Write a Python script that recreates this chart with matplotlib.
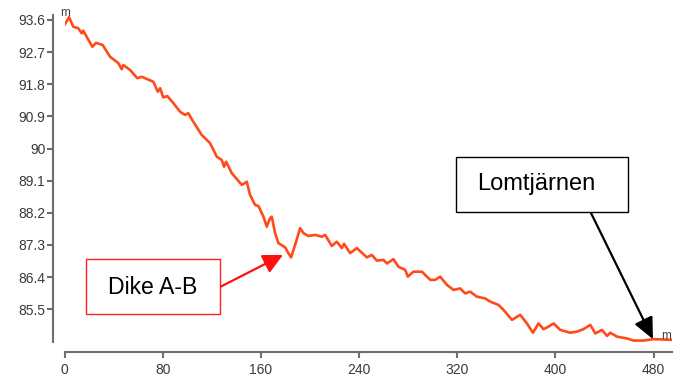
import matplotlib
matplotlib.use("Agg")
import matplotlib.pyplot as plt
from matplotlib.patches import Rectangle

# elevation profile (distance m, elevation m)
dist = [0, 3.7, 7.2, 11.2, 14.0, 15.3, 18.1, 22.7, 25.7, 31.1, 37.1, 43.9, 46.6, 47.9,
        53.4, 59.3, 62.9, 72.4, 76.0, 77.9, 80.5, 83.8, 88.7, 94.2, 98.2, 100.9, 103.7,
        111.8, 114.5, 118.6, 124.1, 128.1, 130.0, 131.7, 136.3, 144.5, 148.5, 151.2,
        155.3, 158.0, 162.1, 164.8, 167.5, 168.9, 171.6, 174.3, 179.8, 182.4, 184.6,
        187.9, 192.0, 194.7, 198.7, 204.2, 209.7, 212.4, 217.8, 221.9, 226.0, 227.8,
        232.7, 238.2, 246.4, 250.4, 254.5, 259.9, 262.7, 268.0, 272.1, 277.6, 279.8,
        284.3, 291.2, 298.0, 302.0, 306.1, 311.6, 317.0, 322.4, 326.5, 330.6, 336.0,
        342.8, 346.9, 353.6, 357.7, 364.6, 371.3, 376.8, 381.7, 386.2, 390.3, 394.4,
        398.5, 403.9, 412.1, 417.5, 422.9, 428.4, 432.5, 437.9, 442.0, 444.7, 450.2,
        458.3, 463.7, 471.8, 480.0, 495.0]
elev = [93.46, 93.68, 93.41, 93.37, 93.23, 93.30, 93.13, 92.85, 92.96, 92.90, 92.57,
        92.39, 92.22, 92.34, 92.20, 91.97, 92.01, 91.87, 91.59, 91.69, 91.43, 91.47,
        91.27, 91.03, 90.94, 90.99, 90.82, 90.38, 90.29, 90.15, 89.77, 89.68, 89.49,
        89.63, 89.31, 88.98, 89.07, 88.70, 88.42, 88.39, 88.09, 87.81, 88.05, 88.09,
        87.63, 87.35, 87.23, 87.07, 86.95, 87.30, 87.77, 87.63, 87.55, 87.58, 87.53,
        87.58, 87.27, 87.39, 87.21, 87.33, 87.07, 87.21, 86.95, 87.02, 86.86, 86.88,
        86.78, 86.90, 86.69, 86.60, 86.41, 86.55, 86.55, 86.32, 86.32, 86.41, 86.18,
        86.04, 86.08, 85.94, 85.99, 85.85, 85.80, 85.71, 85.62, 85.48, 85.20, 85.34,
        85.10, 84.84, 85.10, 84.94, 85.01, 85.10, 84.92, 84.84, 84.87, 84.94, 85.06,
        84.82, 84.92, 84.75, 84.84, 84.73, 84.68, 84.62, 84.62, 84.66, 84.64]

x_ticks = [0, 80, 160, 240, 320, 400, 480]
y_ticks = [85.5, 86.4, 87.3, 88.2, 89.1, 90, 90.9, 91.8, 92.7, 93.6]

dike_label = "Dike A-B"
dike_point = (178, 87.02)
lake_label = "Lomtjärnen"
lake_point = (479.5, 84.66)

W, H = 683, 378
plt.rcParams['font.family'] = ['Liberation Sans', 'DejaVu Sans']
fig = plt.figure(figsize=(W / 100, H / 100), dpi=100)


def fx(px):
    return px / W


def fy(py):
    return 1 - py / H


ax = fig.add_axes([fx(64.5), fy(342), fx(672) - fx(64.5), fy(15) - fy(342)])
ax.plot(dist, elev, color='#ff4a1a', lw=1.9)

ax.set_xlim(0, 495)
ax.set_ylim(84.58, 93.74)
ax.set_xticks(x_ticks)
ax.set_yticks(y_ticks)
ax.set_yticklabels([f"{v:g}" for v in y_ticks])

for s in ['top', 'right']:
    ax.spines[s].set_visible(False)
ax.spines['left'].set_position(('outward', 8.3))
ax.spines['bottom'].set_position(('outward', 7.5))
for s in ['left', 'bottom']:
    ax.spines[s].set_color('#6e6e6e')
    ax.spines[s].set_linewidth(1.5)
ax.tick_params(axis='both', colors='#6e6e6e', labelcolor='#3a3a3a', labelsize=10,
               width=1.5, length=4.5, direction='out')
ax.tick_params(axis='y', pad=1)
ax.tick_params(axis='x', pad=3)

# unit labels
fig.text(fx(65), fy(13), "m", fontsize=8.5, color='#404040', ha='center', va='center')
fig.text(fx(666), fy(336), "m", fontsize=8.5, color='#404040', ha='center', va='center')

# annotation boxes
fig.patches.append(Rectangle((fx(86), fy(314)), fx(220) - fx(86), fy(259) - fy(314),
                             transform=fig.transFigure, facecolor='white',
                             edgecolor='#ff2020', lw=1.0, zorder=5))
fig.text(fx(153), fy(287), dike_label, fontsize=16.6, ha='center', va='center', zorder=6)
ax.annotate('', xy=dike_point, xycoords='data', xytext=(fx(220), fy(287)),
            textcoords='figure fraction',
            arrowprops=dict(arrowstyle='-|>,head_length=0.6,head_width=0.3',
                            color='#ff1010', lw=1.6, mutation_scale=20,
                            shrinkA=0, shrinkB=0))

fig.patches.append(Rectangle((fx(456), fy(212)), fx(628) - fx(456), fy(157) - fy(212),
                             transform=fig.transFigure, facecolor='white',
                             edgecolor='black', lw=1.0, zorder=5))
fig.text(fx(536), fy(184), lake_label, fontsize=17, ha='center', va='center', zorder=6)
ax.annotate('', xy=lake_point, xycoords='data', xytext=(fx(591), fy(213)),
            textcoords='figure fraction',
            arrowprops=dict(arrowstyle='-|>,head_length=0.65,head_width=0.3',
                            color='black', lw=1.6, mutation_scale=20,
                            shrinkA=0, shrinkB=0))

fig.savefig('out.png', dpi=100)
